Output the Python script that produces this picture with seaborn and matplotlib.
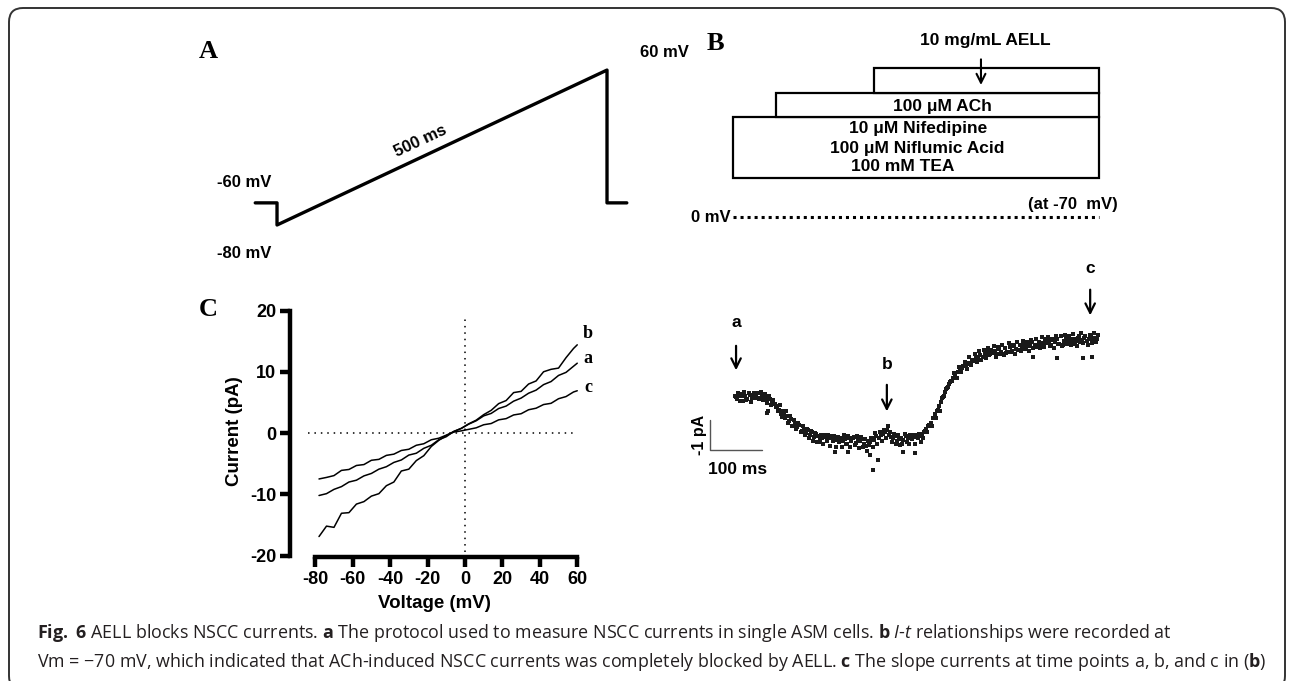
import numpy as np
import pandas as pd
import matplotlib
matplotlib.use("Agg")
import matplotlib.pyplot as plt
import seaborn as sns
from matplotlib import font_manager as fm
from matplotlib.patches import FancyBboxPatch
from matplotlib.transforms import IdentityTransform

# ---------------- data ----------------
# Panel A: voltage-ramp protocol
protocol_t_ms = [-33, 0, 0, 500, 500, 530]
protocol_mv = [-60, -60, -80, 60, -60, -60]

# Panel B: drug application (start / end, ms)
base_solution = ["10 \u03bcM Nifedipine", "100 \u03bcM Niflumic Acid", "100 mM TEA"]
ach_label = "100 \u03bcM ACh"
aell_label = "10 mg/mL AELL"
drug_start_ms = [-4, 79, 267]
drug_end_ms = [700, 700, 700]

# Panel B: I-t trace (pA), two interleaved sample sets, every 4 ms (offset 0 and 2 ms)
sample_ms = 4
trace_pA = [
    0.05, -0.08, 0.02, 0.10, -0.12, 0.04, -0.05, 0.08, -0.02, 0.12,
    0.06, 0.14, -0.04, 0.10, 0.02, -0.10, 0.05, -0.08, -0.15, -0.22,
    -0.30, -0.42, -0.55, -0.48, -0.70, -0.62, -0.80, -0.72, -0.95, -0.85,
    -1.00, -0.92, -1.12, -1.05, -1.20, -1.10, -1.28, -1.18, -1.32, -1.22,
    -1.30, -1.42, -1.35, -1.25, -1.45, -1.38, -1.30, -1.48, -1.36, -1.42,
    -1.50, -1.35, -1.45, -1.40, -1.55, -1.38, -1.46, -1.32, -1.52, -1.42,
    -1.48, -1.40, -1.58, -1.62, -1.45, -1.50, -1.35, -1.42, -1.30, -1.36,
    -1.28, -1.22, -1.15, -1.10, -1.25, -1.32, -1.38, -1.30, -1.45, -1.40,
    -1.35, -1.42, -1.30, -1.38, -1.28, -1.40, -1.32, -1.25, -1.36, -1.30,
    -1.22, -1.15, -1.05, -0.95, -0.85, -0.70, -0.58, -0.45, -0.30, -0.15,
    0.00, 0.18, 0.30, 0.45, 0.55, 0.62, 0.75, 0.82, 0.88, 0.98,
    1.02, 1.08, 1.15, 1.10, 1.25, 1.20, 1.32, 1.28, 1.40, 1.35,
    1.45, 1.52, 1.40, 1.58, 1.48, 1.55, 1.42, 1.60, 1.50, 1.45,
    1.62, 1.50, 1.66, 1.55, 1.70, 1.60, 1.58, 1.72, 1.64, 1.75,
    1.68, 1.78, 1.70, 1.82, 1.75, 1.66, 1.85, 1.78, 1.80, 1.88,
    1.80, 1.86, 1.75, 1.90, 1.82, 1.92, 1.78, 1.70, 1.88, 1.95,
    1.85, 1.92, 1.80, 1.95, 1.88, 1.96, 1.84, 1.90, 1.98, 1.86,
    1.92, 2.00, 1.90, 1.98, 1.94,
]
trace2_pA = [
    0.00, 0.14, -0.14, 0.03, 0.18, -0.10, 0.12, -0.16, 0.08, -0.04,
    0.14, -0.06, 0.16, -0.10, 0.10, -0.20, 0.02, -0.26, -0.10, -0.34,
    -0.45, -0.28, -0.66, -0.55, -0.48, -0.86, -0.62, -0.95, -0.75, -1.08,
    -0.88, -1.15, -0.95, -1.28, -1.08, -1.35, -1.12, -1.45, -1.20, -1.50,
    -1.50, -1.25, -1.58, -1.32, -1.28, -1.62, -1.35, -1.30, -1.65, -1.32,
    -1.35, -1.65, -1.25, -1.58, -1.30, -1.68, -1.35, -1.60, -1.30, -1.70,
    -1.32, -1.65, -1.40, -1.80, -1.60, -1.35, -1.65, -1.20, -1.55, -1.18,
    -1.45, -1.10, -1.35, -0.98, -1.15, -1.50, -1.22, -1.58, -1.28, -1.60,
    -1.55, -1.22, -1.50, -1.58, -1.28, -1.25, -1.55, -1.32, -1.22, -1.50,
    -1.38, -1.12, -1.18, -0.92, -0.98, -0.70, -0.70, -0.42, -0.45, -0.02,
    0.02, 0.28, 0.32, 0.50, 0.55, 0.80, 0.62, 1.00, 0.85, 1.05,
    1.18, 0.92, 1.32, 1.08, 1.25, 1.45, 1.18, 1.52, 1.22, 1.58,
    1.30, 1.65, 1.42, 1.55, 1.70, 1.32, 1.68, 1.45, 1.75, 1.40,
    1.48, 1.80, 1.50, 1.72, 1.45, 1.85, 1.58, 1.52, 1.88, 1.60,
    1.85, 1.55, 1.90, 1.65, 1.95, 1.70, 1.62, 2.00, 1.68, 1.92,
    2.00, 1.70, 1.95, 1.65, 2.05, 1.78, 2.02, 1.72, 2.08, 1.76,
    2.02, 1.74, 2.10, 1.78, 1.70, 2.04, 2.12, 1.80, 2.02, 1.72,
    2.08, 1.80, 2.12, 1.84, 2.06,
]
outlier_t_ms = [62, 64, 192, 217, 260, 265, 275, 323, 346, 573, 619, 669, 686]
outlier_pA = [-0.53, -0.45, -1.83, -1.83, -1.93, -2.43, -2.10, -1.83, -1.87, 1.33, 1.30, 1.30, 1.33]
time_points = ["a", "b", "c"]
time_point_ms = [2, 292, 683]

# Panel C: I-V curves
iv_voltage = [-78, -74, -70, -66, -62, -58, -54, -50, -46, -42, -38, -34, -30, -26, -22, -18,
              -14, -10, -6, -2, 2, 6, 10, 14, 18, 22, 26, 30, 34, 38, 42, 46, 50, 54, 58, 60]
iv_a = [-10.2, -9.9, -9.2, -8.75, -8.0, -7.7, -7.0, -6.6, -5.9, -5.5, -4.8, -4.4, -3.6, -3.3, -2.5, -2.0,
        -1.1, -0.6, 0.25, 0.75, 1.45, 2.0, 2.8, 3.2, 4.0, 4.4, 5.2, 5.7, 6.5, 7.0, 7.9, 8.4, 9.4, 9.9, 10.9, 11.4]
iv_b = [-16.9, -15.2, -15.4, -13.1, -13.0, -11.6, -11.2, -10.3, -9.9, -8.6, -8.0, -6.2, -5.9, -4.5, -3.7, -2.2,
        -1.2, -0.4, 0.25, 0.75, 1.5, 2.1, 3.0, 3.7, 4.8, 5.3, 6.6, 6.8, 8.0, 8.5, 10.0, 10.4, 10.6, 12.3, 13.8, 14.4]
iv_c = [-7.5, -7.25, -6.95, -6.1, -5.95, -5.3, -5.15, -4.45, -4.3, -3.65, -3.45, -2.85, -2.65, -2.0, -1.75, -1.1,
        -0.85, -0.35, 0.15, 0.35, 0.6, 0.85, 1.35, 1.55, 2.15, 2.35, 2.95, 3.15, 3.8, 4.05, 4.65, 4.85, 5.6, 5.95, 6.7, 6.9]
x_ticks = [-80, -60, -40, -20, 0, 20, 40, 60]
y_ticks = [-20, -10, 0, 10, 20]

caption_1 = (r"$\mathbf{Fig.\ 6}$ AELL blocks NSCC currents. $\mathbf{a}$ The protocol used to measure NSCC "
             r"currents in single ASM cells. $\mathbf{b}$ $I$-$t$ relationships were recorded at")
caption_2 = ("Vm = \u221270 mV, which indicated that ACh-induced NSCC currents was completely blocked by AELL. "
             r"$\mathbf{c}$ The slope currents at time points a, b, and c in ($\mathbf{b}$)")

# ---------------- style ----------------
sns.set_theme(style="white")
plt.rcParams["font.family"] = ["Liberation Sans", "DejaVu Sans"]
plt.rcParams["axes.unicode_minus"] = False
names = {f.name for f in fm.fontManager.ttflist}
cap_font = "Liberation Sans Narrow" if "Liberation Sans Narrow" in names else "Open Sans"
plt.rcParams["mathtext.fontset"] = "custom"
plt.rcParams["mathtext.rm"] = cap_font
plt.rcParams["mathtext.bf"] = cap_font + ":bold"
plt.rcParams["mathtext.it"] = cap_font + ":italic"

W, H = 1293, 681
fig = plt.figure(figsize=(W / 100, H / 100), dpi=100)
fig.patch.set_facecolor("white")


def px_axes(x0, y0, x1, y1):
    return fig.add_axes([x0 / W, 1 - y1 / H, (x1 - x0) / W, (y1 - y0) / H])


BOLD = dict(fontweight="bold", color="black")
SERIF = ["Liberation Serif", "DejaVu Serif"]

# ---------------- Panel A ----------------
axA = px_axes(200, 30, 700, 280)
dfA = pd.DataFrame({"t": protocol_t_ms, "V": protocol_mv})
sns.lineplot(data=dfA, x="t", y="V", sort=False, estimator=None, color="black", lw=2.4, ax=axA)
axA.set_xlim(-116.7, 640.9)
axA.set_ylim(-129.7, 96.2)
axA.axis("off")
axA.text(-91, -41.8, "-60 mV", fontsize=12, ha="left", va="center", **BOLD)
axA.text(-91, -105.5, "-80 mV", fontsize=12, ha="left", va="center", **BOLD)
axA.text(550, 76, "60 mV", fontsize=12, ha="left", va="center", **BOLD)
axA.text(217, -4.5, "500 ms", fontsize=12, ha="center", va="center", rotation=25,
         rotation_mode="anchor", **BOLD)

# ---------------- Panel B (solutions) ----------------
xlimB = (-105.8, 759.6)
axBt = px_axes(680, 20, 1130, 240)
row_bottom = [0.0, 2.5, 3.5]
row_height = [2.5, 1.0, 1.0]
axBt.barh(y=row_bottom, width=np.array(drug_end_ms) - np.array(drug_start_ms), left=drug_start_ms,
          height=row_height, align="edge", color="white", edgecolor="black", lw=1.6)
for lab, (tx, ty) in zip(base_solution, [(352, 2.05), (350, 1.23), (323, 0.49)]):
    axBt.text(tx, ty, lab, fontsize=12.5, ha="center", va="center", **BOLD)
axBt.text(398, 2.95, ach_label, fontsize=12.5, ha="center", va="center", **BOLD)
axBt.text(481, 5.66, aell_label, fontsize=12.5, ha="center", va="center", **BOLD)
axBt.annotate("", xy=(473, 3.7), xytext=(473, 4.98),
              arrowprops=dict(arrowstyle="->", lw=1.5, color="black", mutation_scale=16))
axBt.plot([drug_start_ms[0], drug_end_ms[0]], [-1.6, -1.6], color="black", lw=2.2,
          linestyle=(0, (1, 1.3)))
axBt.text(-8, -1.6, "0 mV", fontsize=12, ha="right", va="center", **BOLD)
axBt.text(736, -1.1, "(at -70  mV)", fontsize=12, ha="right", va="center", **BOLD)
axBt.set_xlim(*xlimB)
axBt.set_ylim(-2.54, 6.48)
axBt.axis("off")

# ---------------- Panel B (trace) ----------------
axBb = px_axes(680, 250, 1130, 500)
dfT = pd.DataFrame({
    "t": np.concatenate([np.arange(len(trace_pA)) * sample_ms,
                         np.arange(len(trace2_pA)) * sample_ms + sample_ms / 2,
                         outlier_t_ms]),
    "I": trace_pA + trace2_pA + outlier_pA,
})
sns.scatterplot(data=dfT, x="t", y="I", marker="s", s=7, color="#1a1a1a", edgecolor=None,
                linewidth=0, ax=axBb)
arrow_top = [1.8, 0.5, 3.67]
arrow_tip = [0.8, -0.57, 2.63]
label_y = [2.47, 1.07, 4.3]
for lab, t, a0, a1, ly in zip(time_points, time_point_ms, arrow_top, arrow_tip, label_y):
    axBb.annotate("", xy=(t, a1), xytext=(t, a0),
                  arrowprops=dict(arrowstyle="->", lw=1.6, color="black", mutation_scale=17))
    axBb.text(t, ly, lab, fontsize=12.5, ha="center", va="center", **BOLD)
# scale bar: 1 pA, 100 ms
axBb.plot([-48, -48, 52], [-0.77, -1.77, -1.77], color="#555555", lw=1.0)
axBb.text(-69, -1.27, "-1 pA", fontsize=11.5, rotation=90, ha="center", va="center", **BOLD)
axBb.text(4, -2.43, "100 ms", fontsize=12.5, ha="center", va="center", **BOLD)
axBb.set_xlim(*xlimB)
axBb.set_ylim(-3.43, 4.9)
axBb.axis("off")

# ---------------- Panel C ----------------
axC = px_axes(290, 305, 578, 557)
dfC = pd.DataFrame({
    "V": iv_voltage * 3,
    "I": iv_a + iv_b + iv_c,
    "curve": ["a"] * len(iv_a) + ["b"] * len(iv_b) + ["c"] * len(iv_c),
})
sns.lineplot(data=dfC, x="V", y="I", units="curve", estimator=None, sort=False,
             color="black", lw=1.1, ax=axC)
axC.plot([-84, 60], [0, 0], color="black", lw=1.1, linestyle=(0, (1, 3.2)))
axC.plot([0, 0], [-19.5, 19.3], color="black", lw=1.1, linestyle=(0, (1, 3.2)))
axC.set_xlim(-93.5, 60.4)
axC.set_ylim(-20.24, 20.9)
for s in ["top", "right"]:
    axC.spines[s].set_visible(False)
for s in ["left", "bottom"]:
    axC.spines[s].set_linewidth(3.2)
    axC.spines[s].set_color("black")
axC.spines["left"].set_bounds(-20, 20)
axC.spines["bottom"].set_bounds(-80, 60)
axC.set_xticks(x_ticks)
axC.set_xticklabels([str(v) for v in x_ticks])
axC.set_yticks(y_ticks)
axC.set_yticklabels([str(v) for v in y_ticks])
axC.tick_params(axis="both", direction="out", length=7.5, width=3.2, color="black",
                labelsize=13, labelcolor="black", pad=2.5, left=True, bottom=True)
for lab in axC.get_xticklabels() + axC.get_yticklabels():
    lab.set_fontweight("bold")
axC.set_xlabel("Voltage (mV)", fontsize=13.5, fontweight="bold", color="black", labelpad=5)
axC.set_ylabel("Current (pA)", fontsize=13.5, fontweight="bold", color="black", labelpad=5)
axC.grid(False)
axC.set_facecolor("none")
for lab, yv in zip(["b", "a", "c"], [16.3, 12.2, 7.5]):
    axC.text(65.7, yv, lab, fontsize=13, ha="center", va="center", family=SERIF,
             clip_on=False, **BOLD)

# ---------------- panel letters ----------------
for lab, (x, y) in zip(["A", "B", "C"], [(208, 52), (715, 43), (208, 310)]):
    fig.text(x / W, 1 - y / H, lab, fontsize=19, ha="center", va="center", family=SERIF, **BOLD)

# ---------------- caption ----------------
t1 = fig.text(37 / W, 1 - 633 / H, caption_1, fontsize=13, ha="left", va="center",
              family=[cap_font, "DejaVu Sans"], color="#231f20")
t2 = fig.text(37 / W, 1 - 662 / H, caption_2, fontsize=13, ha="left", va="center",
              family=[cap_font, "DejaVu Sans"], color="#231f20")
fig.canvas.draw()
w1 = t1.get_window_extent().width
w2 = t2.get_window_extent().width
scale = 0.5 * (1110.0 / w1 + 1241.0 / w2)
t1.set_fontsize(13 * scale)
t2.set_fontsize(13 * scale)

# ---------------- border ----------------
border = FancyBboxPatch((9, -9), 1276, 682, boxstyle="round,pad=0,rounding_size=14",
                        transform=IdentityTransform(), fill=False, lw=1.4, ec="#333333")
fig.add_artist(border)

fig.savefig("out.png", dpi=100)
